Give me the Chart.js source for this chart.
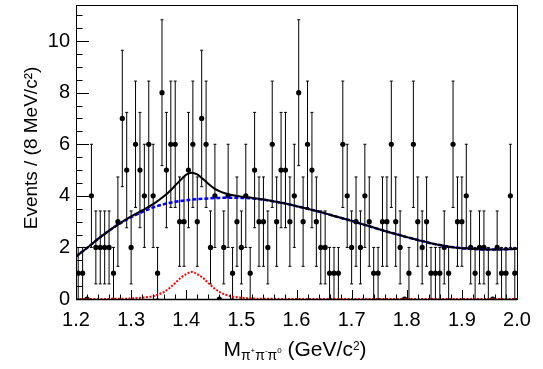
<!DOCTYPE html>
<html><head><meta charset="utf-8">
<script src="https://cdn.jsdelivr.net/npm/chart.js@4.4.1/dist/chart.umd.min.js"></script>
<style>html,body{margin:0;padding:0;background:#fff;}canvas{display:block;}</style>
</head><body>
<canvas id="c" width="543" height="369"></canvas>
<script>
// Binning: 100 bins of 8 MeV from 1.2 to 2.0 GeV (categories = bin centres)
const binLow = 1.2, binWidth = 0.008, nBins = 100;
const binCenters = Array.from({length: nBins}, (_, i) => +(binLow + binWidth * (i + 0.5)).toFixed(3));

// Events per bin
const counts = [
  1,1,0,4,2,2,2,2,1,3,7,5,2,6,5,4,6,4,1,8,5,6,6,3,3,5,
  6,3,7,6,2,4,0,2,4,1,3,2,4,1,5,3,3,2,6,3,5,5,3,4,8,
  3,6,5,3,2,2,1,1,1,6,4,2,3,2,4,3,1,1,3,3,6,3,2,0,1,
  6,3,2,3,1,1,1,2,1,6,3,3,4,2,1,2,2,1,0,2,1,1,4,1
];

// Background fit curve (blue dashed)
const bkgX = [1.20,1.22,1.24,1.26,1.28,1.30,1.32,1.34,1.36,1.38,1.40,1.42,1.44,1.46,1.48,1.50,1.52,1.54,1.56,1.58,1.60,1.62,1.64,1.66,1.68,1.70,1.72,1.74,1.76,1.78,1.80,1.82,1.84,1.86,1.88,1.90,1.92,1.94,1.96,1.98,2.00];
const bkgY = [1.65,1.98,2.33,2.65,2.93,3.17,3.37,3.55,3.68,3.77,3.83,3.87,3.90,3.92,3.93,3.92,3.90,3.85,3.78,3.70,3.60,3.50,3.39,3.27,3.15,3.03,2.90,2.77,2.64,2.52,2.40,2.29,2.18,2.09,2.02,1.97,1.94,1.92,1.92,1.93,1.95];

// Total fit curve (black solid)
const totX = [1.20,1.22,1.24,1.26,1.28,1.30,1.32,1.34,1.35,1.36,1.37,1.38,1.39,1.40,1.41,1.42,1.43,1.44,1.45,1.46,1.47,1.48,1.50,1.52,1.54,1.56,1.58,1.60,1.62,1.64,1.66,1.68,1.70,1.72,1.74,1.76,1.78,1.80,1.82,1.84,1.86,1.88,1.90,1.92,1.94,1.96,1.98,2.00];
const totY = [1.65,1.98,2.33,2.65,2.94,3.20,3.44,3.68,3.83,3.99,4.18,4.40,4.62,4.82,4.90,4.83,4.66,4.47,4.30,4.18,4.10,4.04,3.97,3.92,3.86,3.78,3.70,3.60,3.50,3.39,3.27,3.15,3.03,2.90,2.77,2.64,2.52,2.40,2.29,2.18,2.09,2.02,1.97,1.94,1.92,1.92,1.93,1.95];

// Signal curve (red dotted)
const sigX = [1.20,1.26,1.30,1.32,1.34,1.35,1.36,1.37,1.38,1.39,1.40,1.41,1.42,1.43,1.44,1.45,1.46,1.47,1.48,1.50,1.52,1.56,1.60,2.00];
const sigY = [0,0.005,0.02,0.05,0.11,0.18,0.28,0.43,0.62,0.82,0.96,1.05,0.96,0.82,0.62,0.43,0.28,0.18,0.11,0.05,0.02,0.005,0,0];

// Tick labels
const xTicks = [1.2,1.3,1.4,1.5,1.6,1.7,1.8,1.9,2.0];
const yTicks = [0,2,4,6,8,10];

const FONT = "'Liberation Sans', Arial, Helvetica, sans-serif";

const deco = {
  id: 'deco',
  beforeDatasetsDraw(chart) {
    const {ctx, scales: {x, y}} = chart;
    ctx.save();
    ctx.strokeStyle = '#000';
    ctx.lineWidth = 1;
    binCenters.forEach((c, i) => {
      const n = counts[i];
      if (n <= 0) return;
      const e = Math.sqrt(n);
      const px = x.getPixelForValue(c);
      const y1 = y.getPixelForValue(n + e);
      const y2 = y.getPixelForValue(Math.max(0, n - e));
      ctx.beginPath();
      ctx.moveTo(px, y1); ctx.lineTo(px, y2);
      ctx.moveTo(px - 1.5, y1); ctx.lineTo(px + 1.5, y1);
      ctx.moveTo(px - 1.5, y2); ctx.lineTo(px + 1.5, y2);
      ctx.stroke();
    });
    ctx.restore();
  },
  afterDraw(chart) {
    const {ctx, chartArea: a, scales: {x, y}} = chart;
    ctx.save();
    ctx.strokeStyle = '#000';
    ctx.lineWidth = 1;
    // frame
    ctx.strokeRect(Math.round(a.left) + 0.5, Math.round(a.top) + 0.5,
                   Math.round(a.right - a.left), Math.round(a.bottom - a.top));
    // bottom axis a bit heavier
    ctx.beginPath();
    ctx.lineWidth = 1.5;
    ctx.moveTo(a.left, a.bottom + 0.5); ctx.lineTo(a.right, a.bottom + 0.5);
    ctx.stroke();
    ctx.lineWidth = 1;
    // x ticks (major 0.1, minor 0.02)
    ctx.beginPath();
    for (let k = 0; k <= 40; k++) {
      const v = x.min + k * 0.02;
      const px = Math.round(x.getPixelForValue(v)) + 0.5;
      const len = (k % 5 === 0) ? 9 : 4.5;
      ctx.moveTo(px, a.bottom); ctx.lineTo(px, a.bottom - len);
    }
    // y ticks (major 2, minor 0.5)
    for (let k = 0; k * 0.5 <= y.max; k++) {
      const v = k * 0.5;
      const py = Math.round(y.getPixelForValue(v)) + 0.5;
      const len = (k % 4 === 0) ? 13 : 6.5;
      ctx.moveTo(a.left, py); ctx.lineTo(a.left + len, py);
    }
    ctx.stroke();

    // y title
    ctx.fillStyle = '#000';
    ctx.font = '19px ' + FONT;
    ctx.save();
    ctx.translate(36.5, 148);
    ctx.rotate(-Math.PI / 2);
    ctx.textAlign = 'center';
    ctx.textBaseline = 'alphabetic';
    ctx.fillText('Events / (8 MeV/c\u00B2)', 0, 0);
    ctx.restore();

    // x title: M_{pi+ pi- pi0} (GeV/c^2)
    const parts = [
      {t: 'M', size: 21, dy: 0},
      {t: '\u03C0', size: 14, dy: 3.5},
      {t: '+', size: 8, dy: -3},
      {t: '\u03C0', size: 14, dy: 3.5},
      {t: '-', size: 8, dy: -3},
      {t: '\u03C0', size: 14, dy: 3.5},
      {t: '0', size: 8, dy: -3},
      {t: ' (GeV/c', size: 21, dy: 0},
      {t: '2', size: 12, dy: -6.5},
      {t: ')', size: 21, dy: 0}
    ];
    let total = 0;
    parts.forEach(p => { ctx.font = p.size + 'px ' + FONT; p.w = ctx.measureText(p.t).width; total += p.w; });
    let cx = 295 - total / 2;
    const base = 356;
    ctx.textAlign = 'left';
    ctx.textBaseline = 'alphabetic';
    parts.forEach(p => {
      ctx.font = p.size + 'px ' + FONT;
      ctx.fillText(p.t, cx, base + p.dy);
      cx += p.w;
    });
    ctx.restore();
  }
};

new Chart(document.getElementById('c'), {
  type: 'scatter',
  data: {
    datasets: [
      {
        label: 'total',
        data: totX.map((v, i) => ({x: v, y: totY[i]})),
        showLine: true, borderColor: '#000', borderWidth: 2,
        pointRadius: 0, cubicInterpolationMode: 'monotone', fill: false
      },
      {
        label: 'background',
        data: bkgX.map((v, i) => ({x: v, y: bkgY[i]})),
        showLine: true, borderColor: '#0000ff', borderWidth: 2.5, borderDash: [4, 2],
        pointRadius: 0, cubicInterpolationMode: 'monotone', fill: false
      },
      {
        label: 'signal',
        data: sigX.map((v, i) => ({x: v, y: sigY[i]})),
        showLine: true, borderColor: '#ff0000', borderWidth: 2, borderDash: [2, 1.5],
        pointRadius: 0, cubicInterpolationMode: 'monotone', fill: false
      },
      {
        label: 'data',
        data: binCenters.map((c, i) => ({x: c, y: counts[i]})),
        showLine: false, pointRadius: 2.6, pointBackgroundColor: '#000',
        pointBorderWidth: 0, pointBorderColor: '#000'
      }
    ]
  },
  options: {
    responsive: false,
    devicePixelRatio: 1,
    animation: false,
    events: [],
    layout: {padding: {top: 5, right: 26, left: 0, bottom: 0}},
    plugins: {legend: {display: false}, tooltip: {enabled: false}},
    scales: {
      x: {
        type: 'linear', min: 1.2, max: 2.0,
        afterBuildTicks: s => { s.ticks = xTicks.map(v => ({value: v})); },
        afterFit: s => { s.height = 70; s.paddingLeft = 0; s.paddingRight = 0; },
        grid: {display: false, drawTicks: false},
        border: {display: false},
        ticks: {
          padding: 9, color: '#000', font: {family: FONT, size: 20},
          maxRotation: 0, autoSkip: false,
          callback: v => Number(v).toFixed(1)
        }
      },
      y: {
        type: 'linear', min: 0, max: 11.4,
        afterBuildTicks: s => { s.ticks = yTicks.map(v => ({value: v})); },
        afterFit: s => { s.width = 76; s.paddingTop = 0; s.paddingBottom = 0; },
        grid: {display: false, drawTicks: false},
        border: {display: false},
        ticks: {
          padding: 6, color: '#000', font: {family: FONT, size: 20},
          autoSkip: false,
          callback: v => String(v)
        }
      }
    }
  },
  plugins: [deco]
});
</script>
</body></html>
